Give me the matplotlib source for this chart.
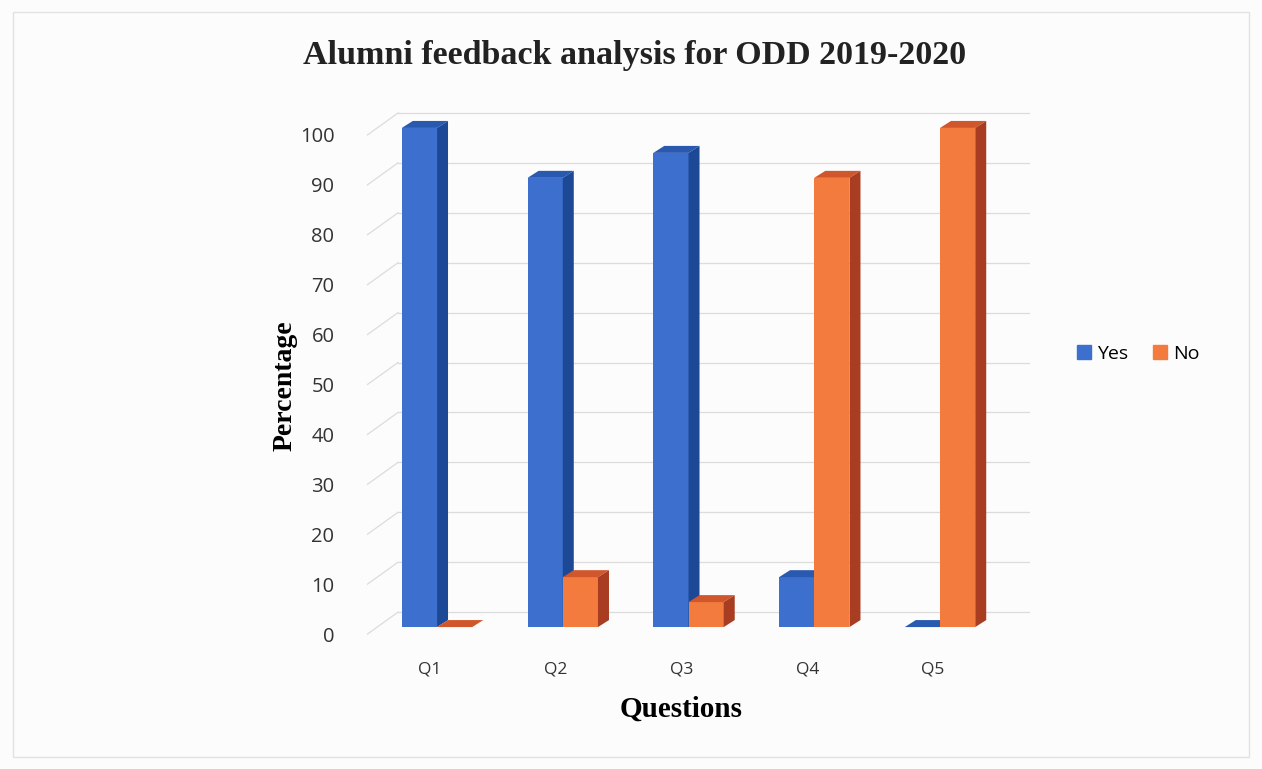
import numpy as np
import matplotlib.pyplot as plt
from matplotlib.patches import Polygon, Rectangle
from matplotlib.transforms import ScaledTranslation

# data
questions = ['Q1', 'Q2', 'Q3', 'Q4', 'Q5']
yes_vals = [100, 90, 95, 10, 0]
no_vals = [0, 10, 5, 90, 100]
y_ticks = list(range(0, 101, 10))

# colours (front, top, side)
blue = ('#3d6fcf', '#2a59b0', '#1d4896')
orange = ('#f47b3e', '#d0562c', '#a83d22')

fig = plt.figure(figsize=(12.62, 7.69), dpi=100)
fig.patch.set_facecolor('#fcfcfc')
fig.patches.append(Rectangle((0.01, 0.015), 0.98, 0.97, transform=fig.transFigure,
                             fill=False, edgecolor='#e2e2e2', linewidth=1))

ax = fig.add_axes([0.2892, 0.1651, 0.527, 0.6984])
ax.set_facecolor('none')
x0, x1 = -0.573, 4.716
ax.set_xlim(x0, x1)
ax.set_ylim(-3, 104.6)

w = 0.28        # bar width
ddx, ddy = 0.0875, 1.4   # bar depth
wall_x = -0.31           # where the back wall starts
front_dy, back_dy = -1.4, 3.0

# back wall grid + side wall diagonals
for v in y_ticks:
    ax.plot([wall_x, x1], [v + back_dy, v + back_dy], color='#dcdcdc', lw=0.9, zorder=0)
    ax.plot([x0 + 0.02, wall_x], [v + front_dy, v + back_dy], color='#dcdcdc', lw=0.9, zorder=0)


def bar3d(x, h, cols):
    ax.bar(x, h, width=w, align='edge', color=cols[0], zorder=2, linewidth=0)
    top = [(x, h), (x + w, h), (x + w + ddx, h + ddy), (x + ddx, h + ddy)]
    side = [(x + w, 0), (x + w + ddx, ddy), (x + w + ddx, h + ddy), (x + w, h)]
    ax.add_patch(Polygon(top, closed=True, facecolor=cols[1], edgecolor='none', zorder=2))
    ax.add_patch(Polygon(side, closed=True, facecolor=cols[2], edgecolor='none', zorder=2))


xs = np.arange(len(questions))
for i in xs:
    bar3d(i - w, yes_vals[i], blue)
    bar3d(i, no_vals[i], orange)

for s in ax.spines.values():
    s.set_visible(False)

ax.set_yticks(y_ticks)
ax.set_yticklabels([str(t) for t in y_ticks], family='Open Sans', fontsize=14.5, color='#333333')
ax.tick_params(axis='y', length=0, pad=22)
# labels sit at the front edge of the side wall, a bit lower than the bars
off = ScaledTranslation(0, -7 / 100, fig.dpi_scale_trans)
for lab in ax.get_yticklabels():
    lab.set_transform(lab.get_transform() + off)

ax.set_xticks(xs - 0.056)
ax.set_xticklabels(questions, family='Open Sans', fontsize=12.5, color='#333333')
ax.tick_params(axis='x', length=0, pad=14)

ax.set_xlabel('Questions', family='Liberation Serif', fontweight='bold', fontsize=21)
ax.xaxis.set_label_coords(0.475, -0.10)
ax.set_ylabel('Percentage', family='Liberation Serif', fontweight='bold', fontsize=20)
ax.yaxis.set_label_coords(-0.102, 0.477)

fig.text(0.503, 0.928, 'Alumni feedback analysis for ODD 2019-2020', ha='center', va='center',
         family='Liberation Serif', fontweight='bold', fontsize=24.5, color='#222222')

# legend
h1 = Rectangle((0, 0), 1, 1, color=blue[0])
h2 = Rectangle((0, 0), 1, 1, color=orange[0])
fig.legend([h1, h2], ['Yes', 'No'], loc='center', bbox_to_anchor=(0.902, 0.54), ncol=2,
           frameon=False, handlelength=0.7, handleheight=0.7, handletextpad=0.3,
           columnspacing=1.3, prop={'family': 'Open Sans', 'size': 14})

fig.savefig('out.png', dpi=100, facecolor=fig.get_facecolor())
